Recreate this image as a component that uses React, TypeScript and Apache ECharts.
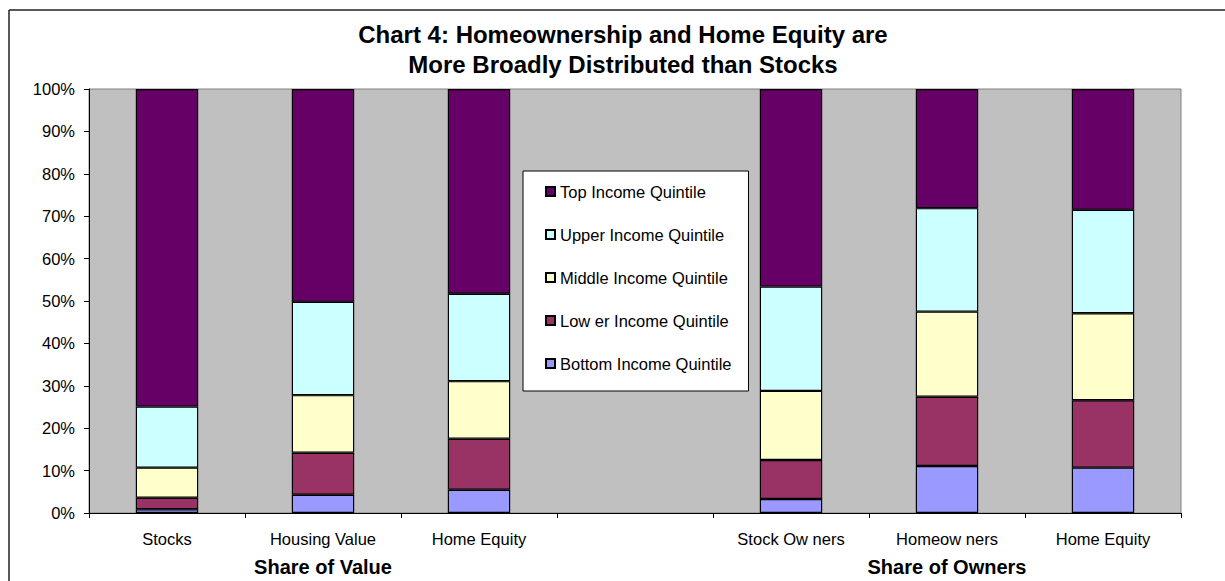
import React, { useEffect, useRef } from "react";
import * as echarts from "echarts";

const categories = ["Stocks", "Housing Value", "Home Equity", "", "Stock Ow ners", "Homeow ners", "Home Equity"];
const bottomQ = [0.9, 4.3, 5.5, null, 3.3, 11.1, 10.7];
const lowerQ = [2.7, 9.9, 12.0, null, 9.2, 16.3, 15.9];
const middleQ = [7.1, 13.6, 13.6, null, 16.3, 20.1, 20.5];
const upperQ = [14.4, 22.0, 20.6, null, 24.6, 24.4, 24.4];
const topQ = [74.9, 50.2, 48.3, null, 46.6, 28.1, 28.5];

const seriesNames = [
  "Bottom Income Quintile",
  "Low er Income Quintile",
  "Middle Income Quintile",
  "Upper Income Quintile",
  "Top Income Quintile",
];
const seriesColors = ["#9999FF", "#993366", "#FFFFCC", "#CCFFFF", "#660066"];
const seriesData = [bottomQ, lowerQ, middleQ, upperQ, topQ];

const titleLines = ["Chart 4: Homeownership and Home Equity are", "More Broadly Distributed than Stocks"];
const groupLabels = ["Share of Value", "Share of Owners"];

const FONT = "'Liberation Sans', Arial, sans-serif";

export default function App() {
  const ref = useRef<HTMLDivElement>(null);
  useEffect(() => {
    if (!ref.current) return;
    const chart = echarts.init(ref.current, undefined, { renderer: "svg" });
    chart.setOption({
      animation: false,
      backgroundColor: "#ffffff",
      textStyle: { fontFamily: FONT },
      grid: {
        left: 89,
        right: 44,
        top: 89,
        bottom: 68,
        show: true,
        backgroundColor: "#C0C0C0",
        borderColor: "#808080",
        borderWidth: 1,
      },
      legend: {
        orient: "vertical",
        left: 523,
        top: 171,
        data: [...seriesNames].reverse(),
        itemWidth: 9,
        itemHeight: 9,
        itemGap: 26,
        padding: [12, 17, 19, 22],
        backgroundColor: "#ffffff",
        borderColor: "#000000",
        borderWidth: 1,
        icon: "rect",
        textStyle: { fontFamily: FONT, fontSize: 16.5, color: "#000", lineHeight: 16 },
      },
      xAxis: {
        type: "category",
        data: categories,
        axisLine: { show: true, lineStyle: { color: "#000", width: 1 } },
        axisTick: { show: true, length: 5, lineStyle: { color: "#000" } },
        axisLabel: { fontFamily: FONT, fontSize: 16.5, color: "#000", margin: 17, interval: 0 },
        splitLine: { show: false },
      },
      yAxis: {
        type: "value",
        min: 0,
        max: 100,
        interval: 10,
        axisLine: { show: true, lineStyle: { color: "#000", width: 1 } },
        axisTick: { show: true, length: 5, lineStyle: { color: "#000" } },
        axisLabel: { fontFamily: FONT, fontSize: 16.5, color: "#000", margin: 14, formatter: "{value}%" },
        splitLine: { show: false },
      },
      series: seriesNames.map((name, i) => ({
        name,
        type: "bar",
        stack: "total",
        barWidth: "40%",
        data: seriesData[i],
        itemStyle: { color: seriesColors[i], borderColor: "#000", borderWidth: 1.2 },
      })),
      graphic: [
        { type: "line", shape: { x1: 9, y1: 10, x2: 1225, y2: 10 }, style: { stroke: "#222", lineWidth: 1.5 } },
        { type: "line", shape: { x1: 9, y1: 10, x2: 9, y2: 581 }, style: { stroke: "#222", lineWidth: 1.5 } },
        {
          type: "text",
          x: 623,
          y: 34,
          style: { text: titleLines[0], font: `bold 24px ${FONT}`, fill: "#000", textAlign: "center", textVerticalAlign: "middle" },
        },
        {
          type: "text",
          x: 623,
          y: 64,
          style: { text: titleLines[1], font: `bold 24px ${FONT}`, fill: "#000", textAlign: "center", textVerticalAlign: "middle" },
        },
        {
          type: "text",
          x: 323,
          y: 567,
          style: { text: groupLabels[0], font: `bold 20px ${FONT}`, fill: "#000", textAlign: "center", textVerticalAlign: "middle" },
        },
        {
          type: "text",
          x: 947,
          y: 567,
          style: { text: groupLabels[1], font: `bold 20px ${FONT}`, fill: "#000", textAlign: "center", textVerticalAlign: "middle" },
        },
      ],
    });
    return () => chart.dispose();
  }, []);
  return (
    <div
      ref={ref}
      style={{ position: "fixed", left: 0, top: 0, width: 1225, height: 581, background: "#fff" }}
    />
  );
}
